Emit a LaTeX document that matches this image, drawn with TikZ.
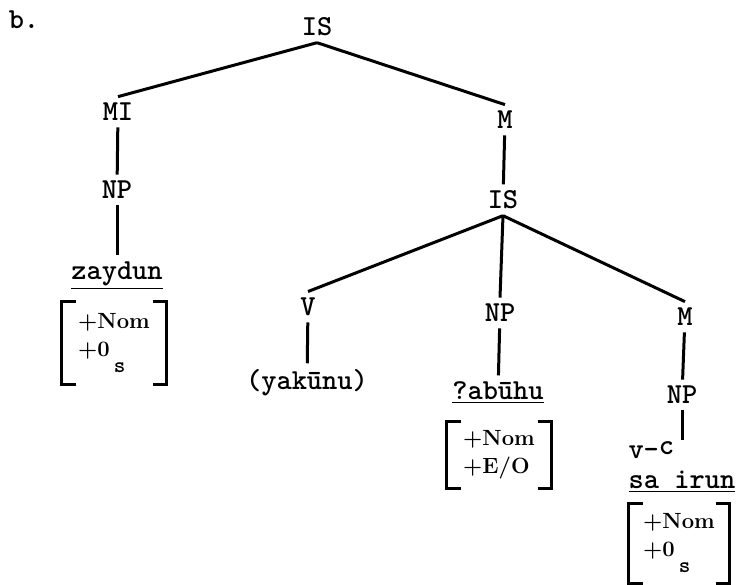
\documentclass[tikz,border=0pt]{standalone}
\usetikzlibrary{calc}
\tikzset{
  lab/.style={font=\ttfamily\bfseries\fontsize{14.5}{16}\selectfont,inner sep=2.5pt},
  feat/.style={font=\bfseries\fontsize{11}{14}\selectfont,align=left,inner sep=0pt},
}
\begin{document}
\begin{tikzpicture}[x=0.5pt,y=-0.5pt,line width=1.5pt]
\useasboundingbox (0,0) rectangle (741,585);
\node[lab] (b) at (24,20) {b.};
% upper part
\node[lab] (is1) at (317,27) {IS};
\node[lab] (mi) at (118,112) {MI};
\node[lab] (m1) at (505,120) {M};
\node[lab] (np1) at (117,190) {NP};
\node[lab] (zaydun) at (117,276) {\underline{zaydun}};
\node[feat,minimum width=51pt,minimum height=40pt] (f1) at (114,343) {+Nom\\+0\hspace{2pt}\raisebox{-8pt}{\ttfamily\bfseries s}};
% lower part
\node[lab] (is2) at (503,200) {IS};
\node[lab] (v) at (308,307) {V};
\node[lab] (np2) at (500,313) {NP};
\node[lab] (m2) at (685,317) {M};
\node[lab] (yakunu) at (307,383) {(yak\=unu)};
\node[lab] (abuhu) at (498,393) {\underline{?ab\=uhu}};
\node[feat,minimum width=51pt,minimum height=32pt] (f2) at (499,455) {+Nom\\+E/O};
\node[lab] (np3) at (682,395) {NP};
\node[lab,inner sep=0pt] (sairun) at (682,482) {\underline{sa irun}};
\node[lab,anchor=west,inner sep=0pt] (vc) at (627,450) {v-\raisebox{2pt}{c}};
\node[feat,minimum width=49pt,minimum height=38.5pt] (f3) at (679,543) {+Nom\\+0\hspace{2pt}\raisebox{-8pt}{\ttfamily\bfseries s}};
% branches
\draw (is1.south) -- (mi.north);
\draw (is1.south) -- (m1.north);
\draw (mi) -- (np1);
\draw (np1) -- (zaydun);
\draw (m1) -- (is2);
\draw (is2.south) -- (v.north);
\draw (is2.south) -- (np2.north);
\draw (is2.south) -- (m2.north);
\draw (v) -- (yakunu);
\draw (np2) -- (abuhu);
\draw (m2) -- (np3);
\draw (np3.south) -- (np3.south |- vc.north);
% brackets
\foreach \f in {f1,f2,f3} {
  \draw ([xshift=7pt]\f.north west) -| (\f.south west) -- ++(7pt,0);
  \draw ([xshift=-7pt]\f.north east) -| (\f.south east) -- ++(-7pt,0);
}
\end{tikzpicture}
\end{document}
